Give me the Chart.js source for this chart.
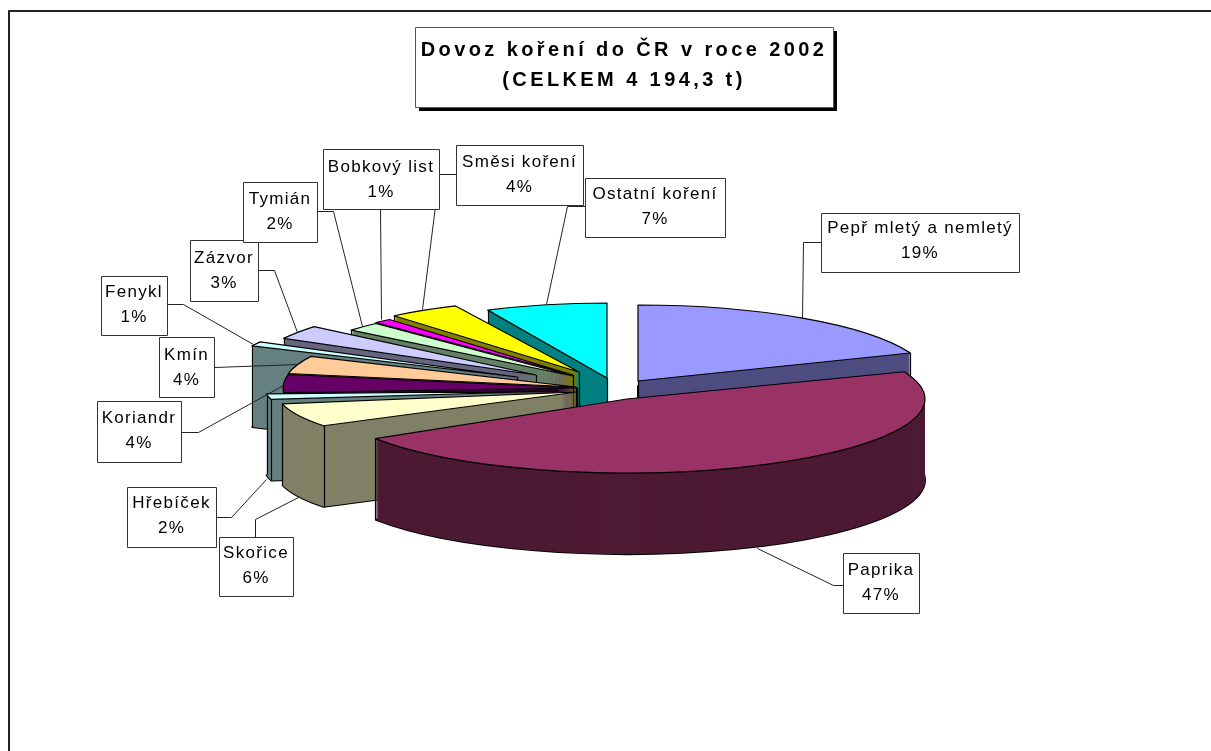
<!DOCTYPE html>
<html>
<head>
<meta charset="utf-8">
<title>Dovoz koření do ČR v roce 2002</title>
<script src="https://cdn.jsdelivr.net/npm/chart.js@4"></script>
<style>
  html, body { margin: 0; padding: 0; background: #fff; overflow: hidden; }
  canvas { display: block; }
</style>
</head>
<body>
<canvas id="chart" width="1211" height="751"></canvas>
<script>
// data
const titleLines = ['Dovoz koření do ČR v roce 2002', '(CELKEM 4 194,3 t)'];
const categories = ['Pepř mletý a nemletý', 'Paprika', 'Skořice', 'Hřebíček', 'Koriandr', 'Kmín',
    'Fenykl', 'Zázvor', 'Tymián', 'Bobkový list', 'Směsi koření', 'Ostatní koření'];
const shares = [19, 47, 6, 2, 4, 4, 1, 3, 2, 1, 4, 7];

// colours
const topColors = ['#9999FF', '#993366', '#FFFFCC', '#CCFFFF', '#660066', '#FFCC99',
    '#CCFFFF', '#CCCCFF', '#CCFFCC', '#FF00FF', '#FFFF00', '#00FFFF'];
const sideColors = ['#4D4D80', '#4D1A33', '#808066', '#668080', '#330033', '#806650',
    '#668080', '#666680', '#668066', '#800080', '#808000', '#008080'];

// 3D look: where each exploded slice sits relative to the pie centre, and its ellipse
const centerX = 605.5, centerY = 375.5;
const explodeX = [32.5, 21.5, -28.5, -48.5, -28.5, -29.5, -88.5, -69.5, -32.5, -32.5, -26.5, 1.5];
const explodeY = [5.5, 23.5, 16.5, 15.5, 12.5, 11.5, 1.5, -0.5, 0.5, -0.5, -3.5, 2.5];
const radiusX = [293, 298, 300, 291, 294, 293, 293, 288, 288, 288, 290, 280];
const radiusY = [76, 74, 63, 45, 72, 72, 73, 76, 72, 72, 73, 75];
const depth = 81;
const drawOrder = [0, 11, 10, 9, 8, 7, 6, 5, 4, 3, 2, 1];

// callouts: box [left, top, right, bottom], first text baseline below the box top, leader line points
const labelBoxes = [
    [821, 213, 1019, 272], [843, 553, 919, 613], [219, 537, 293, 596], [127, 487, 216, 547],
    [97, 401, 181, 462], [159, 337, 214, 397], [101, 276, 167, 335], [190, 240, 258, 301],
    [243, 182, 317, 242], [323, 149, 439, 209], [456, 145, 583, 205], [585, 178, 725, 237]
];
const labelBase = [20, 22, 21, 21, 22, 23, 21, 23, 22, 23, 22, 21];
const leaders = [
    [[821, 242], [803, 242], [802, 318]],
    [[843, 585], [833, 585], [757, 548]],
    [[255, 537], [255, 519], [298, 497]],
    [[216, 517], [231, 517], [266, 479]],
    [[181, 432], [198, 432], [283, 385]],
    [[214, 367], [298, 364]],
    [[167, 304], [183, 304], [253, 344]],
    [[258, 270], [274, 270], [297, 332]],
    [[317, 211], [333, 211], [362, 326]],
    [[380, 209], [381, 319]],
    [[456, 174], [439, 174], [422, 309]],
    [[585, 206], [567, 206], [546, 304]]
];

// path of one slice squashed to its ellipse; line width stays even because stroke happens after restore
function slicePath(ctx, arc, i, dy) {
    const R = arc.outerRadius;
    ctx.save();
    ctx.translate(centerX + explodeX[i], centerY + explodeY[i] + dy);
    ctx.scale(radiusX[i] / R, radiusY[i] / R);
    ctx.beginPath();
    ctx.moveTo(0, 0);
    ctx.arc(0, 0, R, arc.startAngle, arc.endAngle);
    ctx.closePath();
    ctx.restore();
}

function verticalVisible(arc, px, py) {
    // step a little downwards in the unsquashed pie: still inside the wedge means the edge is hidden
    const x = px, y = py + 0.01;
    if (Math.hypot(x, y) > 1) return true;
    let a = Math.atan2(y, x);
    while (a < arc.startAngle) a += Math.PI * 2;
    return a > arc.endAngle;
}

function drawSlice(ctx, arc, i) {
    const sx = centerX + explodeX[i], sy = centerY + explodeY[i];
    ctx.strokeStyle = '#000';

    ctx.lineJoin = 'bevel';
    slicePath(ctx, arc, i, depth);
    ctx.lineWidth = 2;
    ctx.stroke();

    ctx.fillStyle = sideColors[i];
    for (let d = depth; d > 0; d--) {
        slicePath(ctx, arc, i, d);
        ctx.fill();
    }

    ctx.lineJoin = 'round';
    ctx.lineWidth = 1.2;
    const verts = [[0, 0], [Math.cos(arc.startAngle), Math.sin(arc.startAngle)], [Math.cos(arc.endAngle), Math.sin(arc.endAngle)]];
    const apexVisible = !(Math.PI / 2 >= arc.startAngle && Math.PI / 2 <= arc.endAngle);
    verts.forEach((v, k) => {
        if (k === 0 ? !apexVisible : !verticalVisible(arc, v[0], v[1])) return;
        const vx = sx + v[0] * radiusX[i], vy = sy + v[1] * radiusY[i];
        ctx.beginPath();
        ctx.moveTo(Math.round(vx) + 0.5, vy);
        ctx.lineTo(Math.round(vx) + 0.5, vy + depth);
        ctx.stroke();
    });

    // top face comes from the library's own arc element
    ctx.save();
    ctx.translate(sx, sy);
    ctx.scale(radiusX[i] / arc.outerRadius, radiusY[i] / arc.outerRadius);
    ctx.translate(-arc.x, -arc.y);
    arc.draw(ctx);
    ctx.restore();

    slicePath(ctx, arc, i, 0);
    ctx.stroke();
}

const pie3d = {
    id: 'pie3d',
    beforeDatasetsDraw(chart) {
        const arcs = chart.getDatasetMeta(0).data;
        drawOrder.forEach(i => drawSlice(chart.ctx, arcs[i], i));
        return false;
    }
};

function boxText(ctx, lines, box, size, font, spacing, firstBase, lineGap) {
    ctx.fillStyle = '#000';
    ctx.font = font + ' ' + size + 'px "Liberation Sans", Arial, sans-serif';
    ctx.letterSpacing = spacing + 'px';
    ctx.textAlign = 'center';
    ctx.textBaseline = 'alphabetic';
    lines.forEach((t, k) => ctx.fillText(t, (box[0] + box[2]) / 2, box[1] + firstBase + k * lineGap));
    ctx.letterSpacing = '0px';
}

const callouts = {
    id: 'callouts',
    afterDraw(chart) {
        const ctx = chart.ctx;
        ctx.save();
        // outer frame, only the top and left edges are in shot
        ctx.strokeStyle = '#222';
        ctx.lineWidth = 2;
        ctx.beginPath();
        ctx.moveTo(9, 751);
        ctx.lineTo(9, 11);
        ctx.lineTo(1211, 11);
        ctx.stroke();

        ctx.lineWidth = 1;
        ctx.strokeStyle = '#222';
        leaders.forEach(pts => {
            ctx.beginPath();
            pts.forEach((p, k) => k ? ctx.lineTo(p[0] + 0.5, p[1] + 0.5) : ctx.moveTo(p[0] + 0.5, p[1] + 0.5));
            ctx.stroke();
        });

        labelBoxes.forEach((b, i) => {
            ctx.fillStyle = '#fff';
            ctx.fillRect(b[0], b[1], b[2] - b[0], b[3] - b[1]);
            ctx.strokeStyle = '#333';
            ctx.strokeRect(b[0] + 0.5, b[1] + 0.5, b[2] - b[0], b[3] - b[1]);
            boxText(ctx, [categories[i], shares[i] + '%'], b, 17, 'normal', 1.3, labelBase[i], 25);
        });

        // title box with its hard shadow
        const t = [415, 27, 833, 107];
        ctx.fillStyle = '#000';
        ctx.fillRect(t[0] + 4, t[1] + 4, t[2] - t[0], t[3] - t[1]);
        ctx.fillStyle = '#fff';
        ctx.fillRect(t[0], t[1], t[2] - t[0], t[3] - t[1]);
        ctx.strokeStyle = '#555';
        ctx.strokeRect(t[0] + 0.5, t[1] + 0.5, t[2] - t[0], t[3] - t[1]);
        boxText(ctx, titleLines, t, 20, 'bold', 3.4, 29, 30);
        ctx.restore();
    }
};

new Chart(document.getElementById('chart'), {
    type: 'pie',
    data: {
        labels: categories,
        datasets: [{ data: shares, backgroundColor: topColors, borderWidth: 0 }]
    },
    options: {
        responsive: false,
        animation: false,
        plugins: { legend: { display: false }, tooltip: { enabled: false } }
    },
    plugins: [pie3d, callouts]
});
</script>
</body>
</html>
